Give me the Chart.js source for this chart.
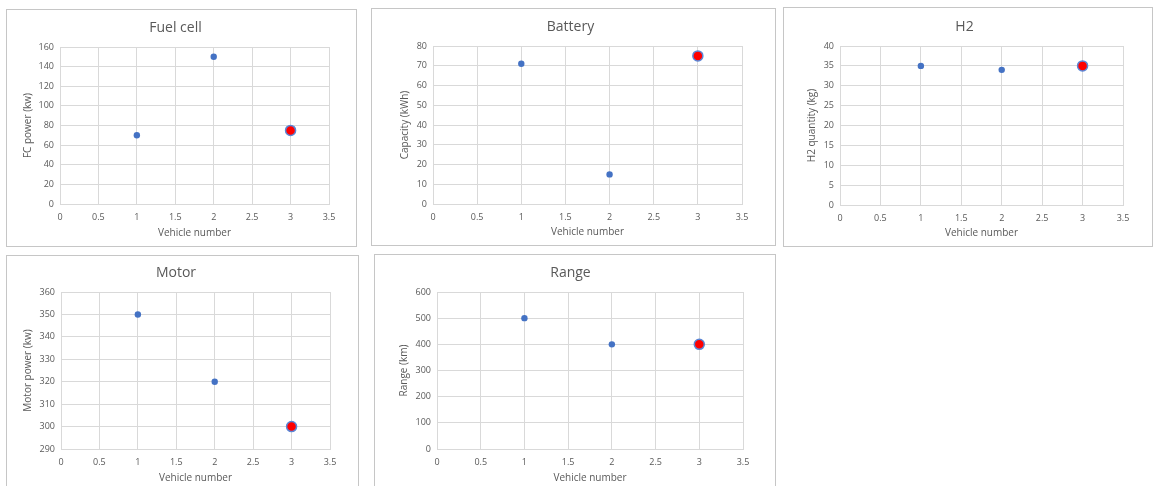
<!DOCTYPE html>
<html>
<head>
<meta charset="utf-8">
<script src="https://cdn.jsdelivr.net/npm/chart.js@4/dist/chart.umd.min.js"></script>
<style>
    html, body { margin: 0; padding: 0; background: #fff; overflow: hidden; }
    body { width: 1157px; height: 486px; position: relative; }
    .panel { position: absolute; border: 1px solid #c6c6c6; background: #fff; box-sizing: border-box; }
    .panel canvas { position: absolute; left: 0; top: 0; }
</style>
</head>
<body>
<div id="charts"></div>
<script>
// chart data
var vehicles = [1, 2, 3];
var fuelCellPower = [70, 150, 75];
var batteryCapacity = [71, 15, 75];
var h2Quantity = [35, 34, 35];
var motorPower = [350, 320, 300];
var rangeKm = [500, 400, 400];
var highlightIndex = 2; // vehicle 3 is drawn red

var chartTitles = ['Fuel cell', 'Battery', 'H2', 'Motor', 'Range'];
var yTitles = ['FC power (kw)', 'Capacity (kWh)', 'H2 quantity (kg)', 'Motor power (kw)', 'Range (km)'];
var xTitle = 'Vehicle number';
var yMins = [0, 0, 0, 290, 0];
var yMaxs = [160, 80, 40, 360, 600];
var ySteps = [20, 10, 5, 10, 100];
var xMin = 0, xMax = 3.5, xStep = 0.5;

var seriesList = [fuelCellPower, batteryCapacity, h2Quantity, motorPower, rangeKm];

// page layout: outer box, plot area, title centres (page pixels)
var panelLayout = [
    {box: [6, 9, 357, 247],   plot: [60, 47, 329, 204],   titleY: 28,  yTitleX: 28,  xTitleY: 233},
    {box: [371, 8, 776, 246], plot: [433, 46, 742, 204],  titleY: 27,  yTitleX: 405, xTitleY: 232},
    {box: [783, 7, 1153, 247],plot: [840, 46, 1123, 205], titleY: 27,  yTitleX: 812, xTitleY: 233},
    {box: [6, 255, 359, 500], plot: [61, 292, 330, 449],  titleY: 273, yTitleX: 28,  xTitleY: 478},
    {box: [374, 254, 776, 500], plot: [437, 292, 743, 449], titleY: 273, yTitleX: 404, xTitleY: 478}
];

var sFont = "'Open Sans', 'Liberation Sans', sans-serif";
var sText = '#595959';
var sGrid = '#d9d9d9';
var sBlue = '#4472c4';

Chart.defaults.font.family = sFont;
Chart.defaults.color = sText;

// excel style numbers: 1 not 1.0
function plainTick(v) { return String(Math.round(v * 100) / 100); }

function makeChart(i) {
    var l = panelLayout[i];
    var bx = l.box, pl = l.plot;
    var w = bx[2] - bx[0], h = bx[3] - bx[1];

    var oDiv = document.createElement('div');
    oDiv.className = 'panel';
    oDiv.style.left = bx[0] + 'px';
    oDiv.style.top = bx[1] + 'px';
    oDiv.style.width = w + 'px';
    oDiv.style.height = h + 'px';
    var oCanvas = document.createElement('canvas');
    oDiv.appendChild(oCanvas);
    document.getElementById('charts').appendChild(oDiv);

    // canvas origin is inside the 1px border
    var ox = bx[0] + 1, oy = bx[1] + 1;
    var cw = w - 2, ch = h - 2;
    oCanvas.width = cw; oCanvas.height = ch;
    oCanvas.style.width = cw + 'px'; oCanvas.style.height = ch + 'px';

    var padLeft = l.yTitleX - 6 - ox;
    var yWidth = pl[0] - ox - padLeft;
    var padRight = (ox + cw) - pl[2];
    var xHeight = l.xTitleY + 6 - pl[3];
    var padBottom = Math.max(0, (oy + ch) - pl[3] - xHeight);
    var titleLH = 14 * 1.2;
    var tPadTop = l.titleY - oy - titleLH / 2;
    var tPadBottom = pl[1] - oy - titleLH - tPadTop;

    var aPoints = vehicles.map(function(v, k) { return {x: v, y: seriesList[i][k]}; });
    var aHigh = [{x: vehicles[highlightIndex], y: seriesList[i][highlightIndex]}];

    return new Chart(oCanvas, {
        type: 'scatter',
        data: {
            datasets: [{
                label: 'highlight',
                data: aHigh,
                pointRadius: 5,
                pointBackgroundColor: '#ff0000',
                pointBorderColor: '#5a86d6',
                pointBorderWidth: 1.5,
                order: 0
            }, {
                label: chartTitles[i],
                data: aPoints,
                pointRadius: 3.2,
                pointBackgroundColor: sBlue,
                pointBorderColor: sBlue,
                pointBorderWidth: 0,
                order: 1
            }]
        },
        options: {
            responsive: false,
            animation: false,
            layout: {padding: {left: padLeft, right: padRight, top: 0, bottom: padBottom}},
            plugins: {
                legend: {display: false},
                tooltip: {enabled: false},
                title: {
                    display: true,
                    text: chartTitles[i],
                    color: sText,
                    font: {size: 14, weight: 'normal'},
                    padding: {top: tPadTop, bottom: tPadBottom}
                }
            },
            scales: {
                x: {
                    type: 'linear',
                    min: xMin, max: xMax,
                    ticks: {stepSize: xStep, padding: 8, color: sText, font: {size: 9}, callback: plainTick},
                    grid: {color: sGrid, drawTicks: false},
                    border: {color: sGrid},
                    title: {display: true, text: xTitle, color: sText, font: {size: 10}, padding: 0},
                    afterFit: function(s) { s.height = xHeight; }
                },
                y: {
                    type: 'linear',
                    min: yMins[i], max: yMaxs[i],
                    ticks: {stepSize: ySteps[i], padding: 6, color: sText, font: {size: 9}, callback: plainTick},
                    grid: {color: sGrid, drawTicks: false},
                    border: {color: sGrid},
                    title: {display: true, text: yTitles[i], color: sText, font: {size: 10}, padding: 0},
                    afterFit: function(s) { s.width = yWidth; }
                }
            }
        }
    });
}

for (var i = 0; i < chartTitles.length; i++)
    makeChart(i);
</script>
</body>
</html>
